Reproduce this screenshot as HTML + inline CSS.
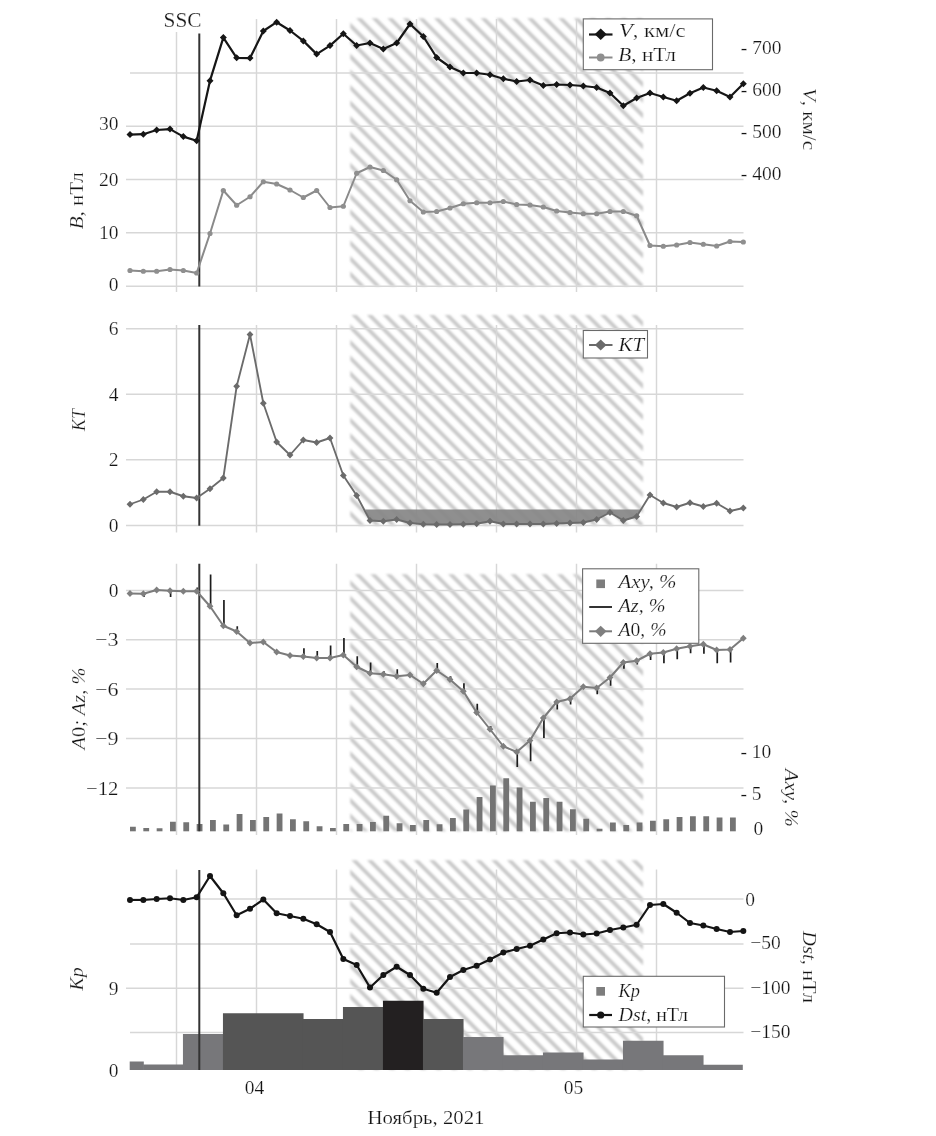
<!DOCTYPE html>
<html lang="ru"><head><meta charset="utf-8"><title>Ноябрь, 2021</title>
<style>html,body{margin:0;padding:0;background:#fff}body{width:936px;height:1136px;overflow:hidden}svg{display:block;font-family:'Liberation Serif',serif}</style></head><body>
<svg width="936" height="1136" viewBox="0 0 936 1136">
<defs>
<filter id="soft" x="-2%" y="-2%" width="104%" height="104%"><feGaussianBlur stdDeviation="0.8"/></filter>
</defs>
<rect width="936" height="1136" fill="#fff"/>
<g id="p1">
<g filter="url(#soft)">
<clipPath id="hc1"><rect x="350.3" y="18.2" width="292.70" height="268.00"/></clipPath>
<g clip-path="url(#hc1)"><path d="M57.35 12.20l280.00 280.00M72.90 12.20l280.00 280.00M88.45 12.20l280.00 280.00M104.00 12.20l280.00 280.00M119.55 12.20l280.00 280.00M135.10 12.20l280.00 280.00M150.65 12.20l280.00 280.00M166.20 12.20l280.00 280.00M181.75 12.20l280.00 280.00M197.30 12.20l280.00 280.00M212.85 12.20l280.00 280.00M228.40 12.20l280.00 280.00M243.95 12.20l280.00 280.00M259.50 12.20l280.00 280.00M275.05 12.20l280.00 280.00M290.60 12.20l280.00 280.00M306.15 12.20l280.00 280.00M321.70 12.20l280.00 280.00M337.25 12.20l280.00 280.00M352.80 12.20l280.00 280.00M368.35 12.20l280.00 280.00M383.90 12.20l280.00 280.00M399.45 12.20l280.00 280.00M415.00 12.20l280.00 280.00M430.55 12.20l280.00 280.00M446.10 12.20l280.00 280.00M461.65 12.20l280.00 280.00M477.20 12.20l280.00 280.00M492.75 12.20l280.00 280.00M508.30 12.20l280.00 280.00M523.85 12.20l280.00 280.00M539.40 12.20l280.00 280.00M554.95 12.20l280.00 280.00M570.50 12.20l280.00 280.00M586.05 12.20l280.00 280.00M601.60 12.20l280.00 280.00M617.15 12.20l280.00 280.00M632.70 12.20l280.00 280.00M648.25 12.20l280.00 280.00M663.80 12.20l280.00 280.00" stroke="#c9c9c9" stroke-width="3.8" fill="none"/></g>
</g>
<line x1="176.5" y1="19" x2="176.5" y2="292" stroke="#d7d7d7" stroke-width="1.45"/>
<line x1="256.5" y1="19" x2="256.5" y2="292" stroke="#d7d7d7" stroke-width="1.45"/>
<line x1="336.5" y1="19" x2="336.5" y2="292" stroke="#d7d7d7" stroke-width="1.45"/>
<line x1="416.5" y1="19" x2="416.5" y2="292" stroke="#d7d7d7" stroke-width="1.45"/>
<line x1="496.5" y1="19" x2="496.5" y2="292" stroke="#d7d7d7" stroke-width="1.45"/>
<line x1="576.5" y1="19" x2="576.5" y2="292" stroke="#d7d7d7" stroke-width="1.45"/>
<line x1="656.5" y1="19" x2="656.5" y2="292" stroke="#d7d7d7" stroke-width="1.45"/>
<line x1="130" y1="73" x2="743.5" y2="73" stroke="#d7d7d7" stroke-width="1.45"/>
<line x1="126" y1="126.2" x2="743.5" y2="126.2" stroke="#d7d7d7" stroke-width="1.45"/>
<line x1="126" y1="179.5" x2="743.5" y2="179.5" stroke="#d7d7d7" stroke-width="1.45"/>
<line x1="126" y1="232.8" x2="743.5" y2="232.8" stroke="#d7d7d7" stroke-width="1.45"/>
<line x1="126" y1="286.2" x2="743.5" y2="286.2" stroke="#d7d7d7" stroke-width="1.45"/>
<line x1="199.3" y1="33.5" x2="199.3" y2="286.5" stroke="#333" stroke-width="2"/>
<polyline points="130.00,270.50 143.33,271.25 156.67,271.25 170.00,269.50 183.33,270.50 196.67,273.00 210.00,233.50 223.33,190.50 236.66,205.25 250.00,196.75 263.33,181.75 276.66,184.00 290.00,190.00 303.33,197.50 316.66,190.50 330.00,207.50 343.33,206.25 356.66,173.25 369.99,167.00 383.33,170.50 396.66,179.75 409.99,200.75 423.33,212.00 436.66,211.50 449.99,208.00 463.32,203.75 476.66,202.75 489.99,202.75 503.32,201.50 516.66,204.50 529.99,205.00 543.32,207.00 556.66,211.00 569.99,212.50 583.32,213.75 596.65,213.75 609.99,211.50 623.32,211.50 636.65,215.75 649.99,245.50 663.32,246.25 676.65,245.00 689.99,242.50 703.32,244.25 716.65,246.00 729.99,241.50 743.32,242.00" fill="none" stroke="#8a8a8a" stroke-width="2" stroke-linejoin="round" stroke-linecap="round"/>
<circle cx="130.00" cy="270.50" r="2.6" fill="#8f8f8f"/>
<circle cx="143.33" cy="271.25" r="2.6" fill="#8f8f8f"/>
<circle cx="156.67" cy="271.25" r="2.6" fill="#8f8f8f"/>
<circle cx="170.00" cy="269.50" r="2.6" fill="#8f8f8f"/>
<circle cx="183.33" cy="270.50" r="2.6" fill="#8f8f8f"/>
<circle cx="196.67" cy="273.00" r="2.6" fill="#8f8f8f"/>
<circle cx="210.00" cy="233.50" r="2.6" fill="#8f8f8f"/>
<circle cx="223.33" cy="190.50" r="2.6" fill="#8f8f8f"/>
<circle cx="236.66" cy="205.25" r="2.6" fill="#8f8f8f"/>
<circle cx="250.00" cy="196.75" r="2.6" fill="#8f8f8f"/>
<circle cx="263.33" cy="181.75" r="2.6" fill="#8f8f8f"/>
<circle cx="276.66" cy="184.00" r="2.6" fill="#8f8f8f"/>
<circle cx="290.00" cy="190.00" r="2.6" fill="#8f8f8f"/>
<circle cx="303.33" cy="197.50" r="2.6" fill="#8f8f8f"/>
<circle cx="316.66" cy="190.50" r="2.6" fill="#8f8f8f"/>
<circle cx="330.00" cy="207.50" r="2.6" fill="#8f8f8f"/>
<circle cx="343.33" cy="206.25" r="2.6" fill="#8f8f8f"/>
<circle cx="356.66" cy="173.25" r="2.6" fill="#8f8f8f"/>
<circle cx="369.99" cy="167.00" r="2.6" fill="#8f8f8f"/>
<circle cx="383.33" cy="170.50" r="2.6" fill="#8f8f8f"/>
<circle cx="396.66" cy="179.75" r="2.6" fill="#8f8f8f"/>
<circle cx="409.99" cy="200.75" r="2.6" fill="#8f8f8f"/>
<circle cx="423.33" cy="212.00" r="2.6" fill="#8f8f8f"/>
<circle cx="436.66" cy="211.50" r="2.6" fill="#8f8f8f"/>
<circle cx="449.99" cy="208.00" r="2.6" fill="#8f8f8f"/>
<circle cx="463.32" cy="203.75" r="2.6" fill="#8f8f8f"/>
<circle cx="476.66" cy="202.75" r="2.6" fill="#8f8f8f"/>
<circle cx="489.99" cy="202.75" r="2.6" fill="#8f8f8f"/>
<circle cx="503.32" cy="201.50" r="2.6" fill="#8f8f8f"/>
<circle cx="516.66" cy="204.50" r="2.6" fill="#8f8f8f"/>
<circle cx="529.99" cy="205.00" r="2.6" fill="#8f8f8f"/>
<circle cx="543.32" cy="207.00" r="2.6" fill="#8f8f8f"/>
<circle cx="556.66" cy="211.00" r="2.6" fill="#8f8f8f"/>
<circle cx="569.99" cy="212.50" r="2.6" fill="#8f8f8f"/>
<circle cx="583.32" cy="213.75" r="2.6" fill="#8f8f8f"/>
<circle cx="596.65" cy="213.75" r="2.6" fill="#8f8f8f"/>
<circle cx="609.99" cy="211.50" r="2.6" fill="#8f8f8f"/>
<circle cx="623.32" cy="211.50" r="2.6" fill="#8f8f8f"/>
<circle cx="636.65" cy="215.75" r="2.6" fill="#8f8f8f"/>
<circle cx="649.99" cy="245.50" r="2.6" fill="#8f8f8f"/>
<circle cx="663.32" cy="246.25" r="2.6" fill="#8f8f8f"/>
<circle cx="676.65" cy="245.00" r="2.6" fill="#8f8f8f"/>
<circle cx="689.99" cy="242.50" r="2.6" fill="#8f8f8f"/>
<circle cx="703.32" cy="244.25" r="2.6" fill="#8f8f8f"/>
<circle cx="716.65" cy="246.00" r="2.6" fill="#8f8f8f"/>
<circle cx="729.99" cy="241.50" r="2.6" fill="#8f8f8f"/>
<circle cx="743.32" cy="242.00" r="2.6" fill="#8f8f8f"/>
<polyline points="130.00,134.60 143.33,134.20 156.67,130.00 170.00,129.10 183.33,136.60 196.67,140.70 210.00,80.70 223.33,37.60 236.66,57.80 250.00,58.10 263.33,31.00 276.66,22.20 290.00,30.50 303.33,40.90 316.66,54.10 330.00,45.60 343.33,33.75 356.66,45.50 369.99,43.00 383.33,49.00 396.66,43.00 409.99,24.00 423.33,36.50 436.66,57.50 449.99,67.00 463.32,73.00 476.66,73.00 489.99,74.75 503.32,78.75 516.66,81.50 529.99,80.00 543.32,85.50 556.66,84.50 569.99,85.00 583.32,86.00 596.65,87.50 609.99,93.00 623.32,105.75 636.65,98.00 649.99,93.00 663.32,97.00 676.65,100.75 689.99,93.25 703.32,87.50 716.65,90.75 729.99,97.00 743.32,83.75" fill="none" stroke="#161616" stroke-width="2.2" stroke-linejoin="round" stroke-linecap="round"/>
<path d="M130.00 131.10l3.5 3.5l-3.5 3.5l-3.5 -3.5zM143.33 130.70l3.5 3.5l-3.5 3.5l-3.5 -3.5zM156.67 126.50l3.5 3.5l-3.5 3.5l-3.5 -3.5zM170.00 125.60l3.5 3.5l-3.5 3.5l-3.5 -3.5zM183.33 133.10l3.5 3.5l-3.5 3.5l-3.5 -3.5zM196.67 137.20l3.5 3.5l-3.5 3.5l-3.5 -3.5zM210.00 77.20l3.5 3.5l-3.5 3.5l-3.5 -3.5zM223.33 34.10l3.5 3.5l-3.5 3.5l-3.5 -3.5zM236.66 54.30l3.5 3.5l-3.5 3.5l-3.5 -3.5zM250.00 54.60l3.5 3.5l-3.5 3.5l-3.5 -3.5zM263.33 27.50l3.5 3.5l-3.5 3.5l-3.5 -3.5zM276.66 18.70l3.5 3.5l-3.5 3.5l-3.5 -3.5zM290.00 27.00l3.5 3.5l-3.5 3.5l-3.5 -3.5zM303.33 37.40l3.5 3.5l-3.5 3.5l-3.5 -3.5zM316.66 50.60l3.5 3.5l-3.5 3.5l-3.5 -3.5zM330.00 42.10l3.5 3.5l-3.5 3.5l-3.5 -3.5zM343.33 30.25l3.5 3.5l-3.5 3.5l-3.5 -3.5zM356.66 42.00l3.5 3.5l-3.5 3.5l-3.5 -3.5zM369.99 39.50l3.5 3.5l-3.5 3.5l-3.5 -3.5zM383.33 45.50l3.5 3.5l-3.5 3.5l-3.5 -3.5zM396.66 39.50l3.5 3.5l-3.5 3.5l-3.5 -3.5zM409.99 20.50l3.5 3.5l-3.5 3.5l-3.5 -3.5zM423.33 33.00l3.5 3.5l-3.5 3.5l-3.5 -3.5zM436.66 54.00l3.5 3.5l-3.5 3.5l-3.5 -3.5zM449.99 63.50l3.5 3.5l-3.5 3.5l-3.5 -3.5zM463.32 69.50l3.5 3.5l-3.5 3.5l-3.5 -3.5zM476.66 69.50l3.5 3.5l-3.5 3.5l-3.5 -3.5zM489.99 71.25l3.5 3.5l-3.5 3.5l-3.5 -3.5zM503.32 75.25l3.5 3.5l-3.5 3.5l-3.5 -3.5zM516.66 78.00l3.5 3.5l-3.5 3.5l-3.5 -3.5zM529.99 76.50l3.5 3.5l-3.5 3.5l-3.5 -3.5zM543.32 82.00l3.5 3.5l-3.5 3.5l-3.5 -3.5zM556.66 81.00l3.5 3.5l-3.5 3.5l-3.5 -3.5zM569.99 81.50l3.5 3.5l-3.5 3.5l-3.5 -3.5zM583.32 82.50l3.5 3.5l-3.5 3.5l-3.5 -3.5zM596.65 84.00l3.5 3.5l-3.5 3.5l-3.5 -3.5zM609.99 89.50l3.5 3.5l-3.5 3.5l-3.5 -3.5zM623.32 102.25l3.5 3.5l-3.5 3.5l-3.5 -3.5zM636.65 94.50l3.5 3.5l-3.5 3.5l-3.5 -3.5zM649.99 89.50l3.5 3.5l-3.5 3.5l-3.5 -3.5zM663.32 93.50l3.5 3.5l-3.5 3.5l-3.5 -3.5zM676.65 97.25l3.5 3.5l-3.5 3.5l-3.5 -3.5zM689.99 89.75l3.5 3.5l-3.5 3.5l-3.5 -3.5zM703.32 84.00l3.5 3.5l-3.5 3.5l-3.5 -3.5zM716.65 87.25l3.5 3.5l-3.5 3.5l-3.5 -3.5zM729.99 93.50l3.5 3.5l-3.5 3.5l-3.5 -3.5zM743.32 80.25l3.5 3.5l-3.5 3.5l-3.5 -3.5z" fill="#161616"/>
<rect x="583.3" y="18.9" width="129.2" height="50.8" fill="#fff" stroke="#6a6a6a" stroke-width="1.1"/>
<line x1="589" y1="34.5" x2="612.5" y2="34.5" stroke="#161616" stroke-width="2.2"/>
<path d="M600.7 28.6l6 5.7l-6 5.7l-6-5.7z" fill="#161616"/>
<line x1="589" y1="57.5" x2="612.5" y2="57.5" stroke="#8a8a8a" stroke-width="2"/>
<circle cx="600.7" cy="57.5" r="3.9" fill="#8f8f8f"/>
<text x="619" y="36.6" textLength="66.5" lengthAdjust="spacingAndGlyphs" font-size="19.5" fill="#141414" stroke="#fff" stroke-width="0.22"><tspan font-style="italic">V</tspan>, км/с</text>
<text x="618.3" y="61.3" textLength="57.5" lengthAdjust="spacingAndGlyphs" font-size="19.5" fill="#141414" stroke="#fff" stroke-width="0.22"><tspan font-style="italic">B</tspan>, нТл</text>
<text x="118.5" y="130.0" text-anchor="end" font-size="19.5" fill="#141414" stroke="#fff" stroke-width="0.22">30</text>
<text x="118.5" y="186.0" text-anchor="end" font-size="19.5" fill="#141414" stroke="#fff" stroke-width="0.22">20</text>
<text x="118.5" y="239.3" text-anchor="end" font-size="19.5" fill="#141414" stroke="#fff" stroke-width="0.22">10</text>
<text x="118.5" y="291.0" text-anchor="end" font-size="19.5" fill="#141414" stroke="#fff" stroke-width="0.22">0</text>
<text x="83.5" y="200.8" text-anchor="middle" textLength="57" lengthAdjust="spacingAndGlyphs" transform="rotate(-90 83.5 200.8)" font-size="19.5" fill="#141414" stroke="#fff" stroke-width="0.22"><tspan font-style="italic">B</tspan>, нТл</text>
<text x="740.8" y="54.3" font-size="19.5" fill="#141414" stroke="#fff" stroke-width="0.22">- 700</text>
<text x="740.8" y="96.1" font-size="19.5" fill="#141414" stroke="#fff" stroke-width="0.22">- 600</text>
<text x="740.8" y="138.3" font-size="19.5" fill="#141414" stroke="#fff" stroke-width="0.22">- 500</text>
<text x="740.8" y="180.2" font-size="19.5" fill="#141414" stroke="#fff" stroke-width="0.22">- 400</text>
<text x="802.5" y="119" text-anchor="middle" textLength="62" lengthAdjust="spacingAndGlyphs" transform="rotate(90 802.5 119)" font-size="19.5" fill="#141414" stroke="#fff" stroke-width="0.22"><tspan font-style="italic">V</tspan>, км/с</text>
<rect x="160" y="8" width="44" height="24" fill="#fff"/>
<text x="163.6" y="27" textLength="38" lengthAdjust="spacingAndGlyphs" font-size="21" fill="#141414" stroke="#fff" stroke-width="0.22">SSC</text>
</g>
<g id="p2">
<g filter="url(#soft)">
<clipPath id="hc2"><rect x="350.3" y="315.1" width="292.70" height="210.40"/></clipPath>
<g clip-path="url(#hc2)"><path d="M114.85 309.10l222.40 222.40M130.40 309.10l222.40 222.40M145.95 309.10l222.40 222.40M161.50 309.10l222.40 222.40M177.05 309.10l222.40 222.40M192.60 309.10l222.40 222.40M208.15 309.10l222.40 222.40M223.70 309.10l222.40 222.40M239.25 309.10l222.40 222.40M254.80 309.10l222.40 222.40M270.35 309.10l222.40 222.40M285.90 309.10l222.40 222.40M301.45 309.10l222.40 222.40M317.00 309.10l222.40 222.40M332.55 309.10l222.40 222.40M348.10 309.10l222.40 222.40M363.65 309.10l222.40 222.40M379.20 309.10l222.40 222.40M394.75 309.10l222.40 222.40M410.30 309.10l222.40 222.40M425.85 309.10l222.40 222.40M441.40 309.10l222.40 222.40M456.95 309.10l222.40 222.40M472.50 309.10l222.40 222.40M488.05 309.10l222.40 222.40M503.60 309.10l222.40 222.40M519.15 309.10l222.40 222.40M534.70 309.10l222.40 222.40M550.25 309.10l222.40 222.40M565.80 309.10l222.40 222.40M581.35 309.10l222.40 222.40M596.90 309.10l222.40 222.40M612.45 309.10l222.40 222.40M628.00 309.10l222.40 222.40M643.55 309.10l222.40 222.40M659.10 309.10l222.40 222.40" stroke="#c9c9c9" stroke-width="3.8" fill="none"/></g>
</g>
<line x1="176.5" y1="325" x2="176.5" y2="532.5" stroke="#d7d7d7" stroke-width="1.45"/>
<line x1="256.5" y1="325" x2="256.5" y2="532.5" stroke="#d7d7d7" stroke-width="1.45"/>
<line x1="336.5" y1="325" x2="336.5" y2="532.5" stroke="#d7d7d7" stroke-width="1.45"/>
<line x1="416.5" y1="325" x2="416.5" y2="532.5" stroke="#d7d7d7" stroke-width="1.45"/>
<line x1="496.5" y1="325" x2="496.5" y2="532.5" stroke="#d7d7d7" stroke-width="1.45"/>
<line x1="576.5" y1="325" x2="576.5" y2="532.5" stroke="#d7d7d7" stroke-width="1.45"/>
<line x1="656.5" y1="325" x2="656.5" y2="532.5" stroke="#d7d7d7" stroke-width="1.45"/>
<line x1="126" y1="328.8" x2="743.5" y2="328.8" stroke="#d7d7d7" stroke-width="1.45"/>
<line x1="126" y1="394.2" x2="743.5" y2="394.2" stroke="#d7d7d7" stroke-width="1.45"/>
<line x1="126" y1="459.8" x2="743.5" y2="459.8" stroke="#d7d7d7" stroke-width="1.45"/>
<line x1="126" y1="525.5" x2="743.5" y2="525.5" stroke="#d7d7d7" stroke-width="1.45"/>
<line x1="199.3" y1="325" x2="199.3" y2="525.7" stroke="#333" stroke-width="2"/>
<path d="M365.2 509.4L640.3 509.4L636.65 516.50L623.32 520.50L609.99 512.50L596.65 519.50L583.32 522.50L569.99 523.00L556.66 523.50L543.32 524.00L529.99 524.00L516.66 524.00L503.32 524.00L489.99 521.25L476.66 523.75L463.32 524.25L449.99 524.50L436.66 524.50L423.33 524.25L409.99 523.00L396.66 519.50L383.33 521.25L369.99 520.50L365.2 509.4Z" fill="#868686" fill-opacity="0.93"/>
<polyline points="130.00,504.25 143.33,499.50 156.67,491.75 170.00,491.75 183.33,496.25 196.67,498.00 210.00,488.75 223.33,478.00 236.66,386.25 250.00,334.50 263.33,403.25 276.66,442.00 290.00,455.00 303.33,440.00 316.66,442.50 330.00,438.00 343.33,475.50 356.66,495.50 369.99,520.50 383.33,521.25 396.66,519.50 409.99,523.00 423.33,524.25 436.66,524.50 449.99,524.50 463.32,524.25 476.66,523.75 489.99,521.25 503.32,524.00 516.66,524.00 529.99,524.00 543.32,524.00 556.66,523.50 569.99,523.00 583.32,522.50 596.65,519.50 609.99,512.50 623.32,520.50 636.65,516.50 649.99,495.00 663.32,503.00 676.65,507.00 689.99,502.75 703.32,506.50 716.65,503.25 729.99,511.00 743.32,508.00" fill="none" stroke="#6b6b6b" stroke-width="1.85" stroke-linejoin="round" stroke-linecap="round"/>
<path d="M130.00 500.85l3.4 3.4l-3.4 3.4l-3.4 -3.4zM143.33 496.10l3.4 3.4l-3.4 3.4l-3.4 -3.4zM156.67 488.35l3.4 3.4l-3.4 3.4l-3.4 -3.4zM170.00 488.35l3.4 3.4l-3.4 3.4l-3.4 -3.4zM183.33 492.85l3.4 3.4l-3.4 3.4l-3.4 -3.4zM196.67 494.60l3.4 3.4l-3.4 3.4l-3.4 -3.4zM210.00 485.35l3.4 3.4l-3.4 3.4l-3.4 -3.4zM223.33 474.60l3.4 3.4l-3.4 3.4l-3.4 -3.4zM236.66 382.85l3.4 3.4l-3.4 3.4l-3.4 -3.4zM250.00 331.10l3.4 3.4l-3.4 3.4l-3.4 -3.4zM263.33 399.85l3.4 3.4l-3.4 3.4l-3.4 -3.4zM276.66 438.60l3.4 3.4l-3.4 3.4l-3.4 -3.4zM290.00 451.60l3.4 3.4l-3.4 3.4l-3.4 -3.4zM303.33 436.60l3.4 3.4l-3.4 3.4l-3.4 -3.4zM316.66 439.10l3.4 3.4l-3.4 3.4l-3.4 -3.4zM330.00 434.60l3.4 3.4l-3.4 3.4l-3.4 -3.4zM343.33 472.10l3.4 3.4l-3.4 3.4l-3.4 -3.4zM356.66 492.10l3.4 3.4l-3.4 3.4l-3.4 -3.4zM369.99 517.10l3.4 3.4l-3.4 3.4l-3.4 -3.4zM383.33 517.85l3.4 3.4l-3.4 3.4l-3.4 -3.4zM396.66 516.10l3.4 3.4l-3.4 3.4l-3.4 -3.4zM409.99 519.60l3.4 3.4l-3.4 3.4l-3.4 -3.4zM423.33 520.85l3.4 3.4l-3.4 3.4l-3.4 -3.4zM436.66 521.10l3.4 3.4l-3.4 3.4l-3.4 -3.4zM449.99 521.10l3.4 3.4l-3.4 3.4l-3.4 -3.4zM463.32 520.85l3.4 3.4l-3.4 3.4l-3.4 -3.4zM476.66 520.35l3.4 3.4l-3.4 3.4l-3.4 -3.4zM489.99 517.85l3.4 3.4l-3.4 3.4l-3.4 -3.4zM503.32 520.60l3.4 3.4l-3.4 3.4l-3.4 -3.4zM516.66 520.60l3.4 3.4l-3.4 3.4l-3.4 -3.4zM529.99 520.60l3.4 3.4l-3.4 3.4l-3.4 -3.4zM543.32 520.60l3.4 3.4l-3.4 3.4l-3.4 -3.4zM556.66 520.10l3.4 3.4l-3.4 3.4l-3.4 -3.4zM569.99 519.60l3.4 3.4l-3.4 3.4l-3.4 -3.4zM583.32 519.10l3.4 3.4l-3.4 3.4l-3.4 -3.4zM596.65 516.10l3.4 3.4l-3.4 3.4l-3.4 -3.4zM609.99 509.10l3.4 3.4l-3.4 3.4l-3.4 -3.4zM623.32 517.10l3.4 3.4l-3.4 3.4l-3.4 -3.4zM636.65 513.10l3.4 3.4l-3.4 3.4l-3.4 -3.4zM649.99 491.60l3.4 3.4l-3.4 3.4l-3.4 -3.4zM663.32 499.60l3.4 3.4l-3.4 3.4l-3.4 -3.4zM676.65 503.60l3.4 3.4l-3.4 3.4l-3.4 -3.4zM689.99 499.35l3.4 3.4l-3.4 3.4l-3.4 -3.4zM703.32 503.10l3.4 3.4l-3.4 3.4l-3.4 -3.4zM716.65 499.85l3.4 3.4l-3.4 3.4l-3.4 -3.4zM729.99 507.60l3.4 3.4l-3.4 3.4l-3.4 -3.4zM743.32 504.60l3.4 3.4l-3.4 3.4l-3.4 -3.4z" fill="#6b6b6b"/>
<rect x="583.3" y="330.5" width="64.2" height="27.5" fill="#fff" stroke="#6a6a6a" stroke-width="1.1"/>
<line x1="589" y1="345" x2="612.5" y2="345" stroke="#6b6b6b" stroke-width="2"/>
<path d="M600.7 339.4l5.8 5.6l-5.8 5.6l-5.8-5.6z" fill="#6b6b6b"/>
<text x="618.5" y="350.7" textLength="25.5" lengthAdjust="spacingAndGlyphs" font-style="italic" font-size="19.5" fill="#141414" stroke="#fff" stroke-width="0.22">KT</text>
<text x="118.5" y="335.3" text-anchor="end" font-size="19.5" fill="#141414" stroke="#fff" stroke-width="0.22">6</text>
<text x="118.5" y="400.7" text-anchor="end" font-size="19.5" fill="#141414" stroke="#fff" stroke-width="0.22">4</text>
<text x="118.5" y="466.3" text-anchor="end" font-size="19.5" fill="#141414" stroke="#fff" stroke-width="0.22">2</text>
<text x="118.5" y="532.0" text-anchor="end" font-size="19.5" fill="#141414" stroke="#fff" stroke-width="0.22">0</text>
<text x="84.7" y="420" text-anchor="middle" textLength="22" lengthAdjust="spacingAndGlyphs" transform="rotate(-90 84.7 420)" font-style="italic" font-size="19.5" fill="#141414" stroke="#fff" stroke-width="0.22">KT</text>
</g>
<g id="p3">
<g filter="url(#soft)">
<clipPath id="hc3"><rect x="350.3" y="574.3" width="292.70" height="256.90"/></clipPath>
<g clip-path="url(#hc3)"><path d="M71.60 568.30l268.90 268.90M87.15 568.30l268.90 268.90M102.70 568.30l268.90 268.90M118.25 568.30l268.90 268.90M133.80 568.30l268.90 268.90M149.35 568.30l268.90 268.90M164.90 568.30l268.90 268.90M180.45 568.30l268.90 268.90M196.00 568.30l268.90 268.90M211.55 568.30l268.90 268.90M227.10 568.30l268.90 268.90M242.65 568.30l268.90 268.90M258.20 568.30l268.90 268.90M273.75 568.30l268.90 268.90M289.30 568.30l268.90 268.90M304.85 568.30l268.90 268.90M320.40 568.30l268.90 268.90M335.95 568.30l268.90 268.90M351.50 568.30l268.90 268.90M367.05 568.30l268.90 268.90M382.60 568.30l268.90 268.90M398.15 568.30l268.90 268.90M413.70 568.30l268.90 268.90M429.25 568.30l268.90 268.90M444.80 568.30l268.90 268.90M460.35 568.30l268.90 268.90M475.90 568.30l268.90 268.90M491.45 568.30l268.90 268.90M507.00 568.30l268.90 268.90M522.55 568.30l268.90 268.90M538.10 568.30l268.90 268.90M553.65 568.30l268.90 268.90M569.20 568.30l268.90 268.90M584.75 568.30l268.90 268.90M600.30 568.30l268.90 268.90M615.85 568.30l268.90 268.90M631.40 568.30l268.90 268.90M646.95 568.30l268.90 268.90M662.50 568.30l268.90 268.90" stroke="#c9c9c9" stroke-width="3.8" fill="none"/></g>
</g>
<line x1="176.5" y1="563.8" x2="176.5" y2="835" stroke="#d7d7d7" stroke-width="1.45"/>
<line x1="256.5" y1="563.8" x2="256.5" y2="835" stroke="#d7d7d7" stroke-width="1.45"/>
<line x1="336.5" y1="563.8" x2="336.5" y2="835" stroke="#d7d7d7" stroke-width="1.45"/>
<line x1="416.5" y1="563.8" x2="416.5" y2="835" stroke="#d7d7d7" stroke-width="1.45"/>
<line x1="496.5" y1="563.8" x2="496.5" y2="835" stroke="#d7d7d7" stroke-width="1.45"/>
<line x1="576.5" y1="563.8" x2="576.5" y2="835" stroke="#d7d7d7" stroke-width="1.45"/>
<line x1="656.5" y1="563.8" x2="656.5" y2="835" stroke="#d7d7d7" stroke-width="1.45"/>
<line x1="126" y1="590.5" x2="743.5" y2="590.5" stroke="#d7d7d7" stroke-width="1.45"/>
<line x1="126" y1="639.7" x2="743.5" y2="639.7" stroke="#d7d7d7" stroke-width="1.45"/>
<line x1="126" y1="689" x2="743.5" y2="689" stroke="#d7d7d7" stroke-width="1.45"/>
<line x1="126" y1="738.5" x2="743.5" y2="738.5" stroke="#d7d7d7" stroke-width="1.45"/>
<line x1="126" y1="788" x2="743.5" y2="788" stroke="#d7d7d7" stroke-width="1.45"/>
<rect x="130.00" y="826.75" width="5.8" height="4.55" fill="#747474"/>
<rect x="143.33" y="828" width="5.8" height="3.30" fill="#747474"/>
<rect x="156.67" y="828.25" width="5.8" height="3.05" fill="#747474"/>
<rect x="170.00" y="821.75" width="5.8" height="9.55" fill="#747474"/>
<rect x="183.33" y="822.25" width="5.8" height="9.05" fill="#747474"/>
<rect x="196.67" y="824" width="5.8" height="7.30" fill="#747474"/>
<rect x="210.00" y="820" width="5.8" height="11.30" fill="#747474"/>
<rect x="223.33" y="824.5" width="5.8" height="6.80" fill="#747474"/>
<rect x="236.66" y="814" width="5.8" height="17.30" fill="#747474"/>
<rect x="250.00" y="820" width="5.8" height="11.30" fill="#747474"/>
<rect x="263.33" y="817" width="5.8" height="14.30" fill="#747474"/>
<rect x="276.66" y="813.5" width="5.8" height="17.80" fill="#747474"/>
<rect x="290.00" y="819.25" width="5.8" height="12.05" fill="#747474"/>
<rect x="303.33" y="821.25" width="5.8" height="10.05" fill="#747474"/>
<rect x="316.66" y="826.25" width="5.8" height="5.05" fill="#747474"/>
<rect x="330.00" y="828" width="5.8" height="3.30" fill="#747474"/>
<rect x="343.33" y="824" width="5.8" height="7.30" fill="#747474"/>
<rect x="356.66" y="824" width="5.8" height="7.30" fill="#747474"/>
<rect x="369.99" y="822" width="5.8" height="9.30" fill="#747474"/>
<rect x="383.33" y="815.75" width="5.8" height="15.55" fill="#747474"/>
<rect x="396.66" y="823.25" width="5.8" height="8.05" fill="#747474"/>
<rect x="409.99" y="825" width="5.8" height="6.30" fill="#747474"/>
<rect x="423.33" y="820" width="5.8" height="11.30" fill="#747474"/>
<rect x="436.66" y="824.25" width="5.8" height="7.05" fill="#747474"/>
<rect x="449.99" y="818" width="5.8" height="13.30" fill="#747474"/>
<rect x="463.32" y="809.5" width="5.8" height="21.80" fill="#747474"/>
<rect x="476.66" y="797" width="5.8" height="34.30" fill="#747474"/>
<rect x="489.99" y="785.5" width="5.8" height="45.80" fill="#747474"/>
<rect x="503.32" y="778.25" width="5.8" height="53.05" fill="#747474"/>
<rect x="516.66" y="787.5" width="5.8" height="43.80" fill="#747474"/>
<rect x="529.99" y="801.75" width="5.8" height="29.55" fill="#747474"/>
<rect x="543.32" y="798" width="5.8" height="33.30" fill="#747474"/>
<rect x="556.66" y="801.75" width="5.8" height="29.55" fill="#747474"/>
<rect x="569.99" y="809.25" width="5.8" height="22.05" fill="#747474"/>
<rect x="583.32" y="818.75" width="5.8" height="12.55" fill="#747474"/>
<rect x="596.65" y="828.75" width="5.8" height="2.55" fill="#747474"/>
<rect x="609.99" y="822.5" width="5.8" height="8.80" fill="#747474"/>
<rect x="623.32" y="825" width="5.8" height="6.30" fill="#747474"/>
<rect x="636.65" y="822.5" width="5.8" height="8.80" fill="#747474"/>
<rect x="649.99" y="820.75" width="5.8" height="10.55" fill="#747474"/>
<rect x="663.32" y="819.25" width="5.8" height="12.05" fill="#747474"/>
<rect x="676.65" y="817" width="5.8" height="14.30" fill="#747474"/>
<rect x="689.99" y="816.25" width="5.8" height="15.05" fill="#747474"/>
<rect x="703.32" y="816.25" width="5.8" height="15.05" fill="#747474"/>
<rect x="716.65" y="817.5" width="5.8" height="13.80" fill="#747474"/>
<rect x="729.99" y="817.5" width="5.8" height="13.80" fill="#747474"/>
<line x1="199.3" y1="563.8" x2="199.3" y2="831.3" stroke="#333" stroke-width="2"/>
<line x1="143.93" y1="593.75" x2="143.93" y2="597" stroke="#1c1c1c" stroke-width="1.7"/>
<line x1="170.60" y1="590.75" x2="170.60" y2="597" stroke="#1c1c1c" stroke-width="1.7"/>
<line x1="197.27" y1="591.25" x2="197.27" y2="587.5" stroke="#1c1c1c" stroke-width="1.7"/>
<line x1="210.60" y1="606.25" x2="210.60" y2="574.5" stroke="#1c1c1c" stroke-width="1.7"/>
<line x1="223.93" y1="625.75" x2="223.93" y2="600" stroke="#1c1c1c" stroke-width="1.7"/>
<line x1="237.26" y1="631.5" x2="237.26" y2="626.25" stroke="#1c1c1c" stroke-width="1.7"/>
<line x1="303.93" y1="656.5" x2="303.93" y2="648.25" stroke="#1c1c1c" stroke-width="1.7"/>
<line x1="317.26" y1="658" x2="317.26" y2="651" stroke="#1c1c1c" stroke-width="1.7"/>
<line x1="330.60" y1="658" x2="330.60" y2="645.5" stroke="#1c1c1c" stroke-width="1.7"/>
<line x1="343.93" y1="655" x2="343.93" y2="638" stroke="#1c1c1c" stroke-width="1.7"/>
<line x1="357.26" y1="666.75" x2="357.26" y2="656.25" stroke="#1c1c1c" stroke-width="1.7"/>
<line x1="370.59" y1="673.25" x2="370.59" y2="662.5" stroke="#1c1c1c" stroke-width="1.7"/>
<line x1="383.93" y1="674.25" x2="383.93" y2="671.25" stroke="#1c1c1c" stroke-width="1.7"/>
<line x1="397.26" y1="676.25" x2="397.26" y2="669.25" stroke="#1c1c1c" stroke-width="1.7"/>
<line x1="423.93" y1="683.75" x2="423.93" y2="681.5" stroke="#1c1c1c" stroke-width="1.7"/>
<line x1="437.26" y1="670.5" x2="437.26" y2="663" stroke="#1c1c1c" stroke-width="1.7"/>
<line x1="450.59" y1="679.5" x2="450.59" y2="676.25" stroke="#1c1c1c" stroke-width="1.7"/>
<line x1="463.93" y1="691.25" x2="463.93" y2="683.25" stroke="#1c1c1c" stroke-width="1.7"/>
<line x1="477.26" y1="712.5" x2="477.26" y2="703.75" stroke="#1c1c1c" stroke-width="1.7"/>
<line x1="490.59" y1="729.25" x2="490.59" y2="726" stroke="#1c1c1c" stroke-width="1.7"/>
<line x1="517.26" y1="752" x2="517.26" y2="767" stroke="#1c1c1c" stroke-width="1.7"/>
<line x1="530.59" y1="740.5" x2="530.59" y2="761.25" stroke="#1c1c1c" stroke-width="1.7"/>
<line x1="543.92" y1="718" x2="543.92" y2="738" stroke="#1c1c1c" stroke-width="1.7"/>
<line x1="557.26" y1="702" x2="557.26" y2="709.5" stroke="#1c1c1c" stroke-width="1.7"/>
<line x1="570.59" y1="698.75" x2="570.59" y2="704.5" stroke="#1c1c1c" stroke-width="1.7"/>
<line x1="597.25" y1="688" x2="597.25" y2="694.25" stroke="#1c1c1c" stroke-width="1.7"/>
<line x1="610.59" y1="677.5" x2="610.59" y2="685.75" stroke="#1c1c1c" stroke-width="1.7"/>
<line x1="623.92" y1="662.5" x2="623.92" y2="668.75" stroke="#1c1c1c" stroke-width="1.7"/>
<line x1="637.25" y1="660.75" x2="637.25" y2="664.5" stroke="#1c1c1c" stroke-width="1.7"/>
<line x1="650.59" y1="653.75" x2="650.59" y2="660" stroke="#1c1c1c" stroke-width="1.7"/>
<line x1="663.92" y1="652.5" x2="663.92" y2="663.25" stroke="#1c1c1c" stroke-width="1.7"/>
<line x1="677.25" y1="648.75" x2="677.25" y2="659.25" stroke="#1c1c1c" stroke-width="1.7"/>
<line x1="690.59" y1="646.25" x2="690.59" y2="653.25" stroke="#1c1c1c" stroke-width="1.7"/>
<line x1="703.92" y1="644.25" x2="703.92" y2="653.75" stroke="#1c1c1c" stroke-width="1.7"/>
<line x1="717.25" y1="650" x2="717.25" y2="663.25" stroke="#1c1c1c" stroke-width="1.7"/>
<line x1="730.59" y1="649.5" x2="730.59" y2="662.5" stroke="#1c1c1c" stroke-width="1.7"/>
<polyline points="130.00,593.50 143.33,593.75 156.67,590.00 170.00,590.75 183.33,591.25 196.67,591.25 210.00,606.25 223.33,625.75 236.66,631.50 250.00,643.00 263.33,642.00 276.66,652.00 290.00,655.50 303.33,656.50 316.66,658.00 330.00,658.00 343.33,655.00 356.66,666.75 369.99,673.25 383.33,674.25 396.66,676.25 409.99,675.00 423.33,683.75 436.66,670.50 449.99,679.50 463.32,691.25 476.66,712.50 489.99,729.25 503.32,746.25 516.66,752.00 529.99,740.50 543.32,718.00 556.66,702.00 569.99,698.75 583.32,686.75 596.65,688.00 609.99,677.50 623.32,662.50 636.65,660.75 649.99,653.75 663.32,652.50 676.65,648.75 689.99,646.25 703.32,644.25 716.65,650.00 729.99,649.50 743.32,638.25" fill="none" stroke="#7b7b7b" stroke-width="2" stroke-linejoin="round" stroke-linecap="round"/>
<path d="M130.00 590.10l3.4 3.4l-3.4 3.4l-3.4 -3.4zM143.33 590.35l3.4 3.4l-3.4 3.4l-3.4 -3.4zM156.67 586.60l3.4 3.4l-3.4 3.4l-3.4 -3.4zM170.00 587.35l3.4 3.4l-3.4 3.4l-3.4 -3.4zM183.33 587.85l3.4 3.4l-3.4 3.4l-3.4 -3.4zM196.67 587.85l3.4 3.4l-3.4 3.4l-3.4 -3.4zM210.00 602.85l3.4 3.4l-3.4 3.4l-3.4 -3.4zM223.33 622.35l3.4 3.4l-3.4 3.4l-3.4 -3.4zM236.66 628.10l3.4 3.4l-3.4 3.4l-3.4 -3.4zM250.00 639.60l3.4 3.4l-3.4 3.4l-3.4 -3.4zM263.33 638.60l3.4 3.4l-3.4 3.4l-3.4 -3.4zM276.66 648.60l3.4 3.4l-3.4 3.4l-3.4 -3.4zM290.00 652.10l3.4 3.4l-3.4 3.4l-3.4 -3.4zM303.33 653.10l3.4 3.4l-3.4 3.4l-3.4 -3.4zM316.66 654.60l3.4 3.4l-3.4 3.4l-3.4 -3.4zM330.00 654.60l3.4 3.4l-3.4 3.4l-3.4 -3.4zM343.33 651.60l3.4 3.4l-3.4 3.4l-3.4 -3.4zM356.66 663.35l3.4 3.4l-3.4 3.4l-3.4 -3.4zM369.99 669.85l3.4 3.4l-3.4 3.4l-3.4 -3.4zM383.33 670.85l3.4 3.4l-3.4 3.4l-3.4 -3.4zM396.66 672.85l3.4 3.4l-3.4 3.4l-3.4 -3.4zM409.99 671.60l3.4 3.4l-3.4 3.4l-3.4 -3.4zM423.33 680.35l3.4 3.4l-3.4 3.4l-3.4 -3.4zM436.66 667.10l3.4 3.4l-3.4 3.4l-3.4 -3.4zM449.99 676.10l3.4 3.4l-3.4 3.4l-3.4 -3.4zM463.32 687.85l3.4 3.4l-3.4 3.4l-3.4 -3.4zM476.66 709.10l3.4 3.4l-3.4 3.4l-3.4 -3.4zM489.99 725.85l3.4 3.4l-3.4 3.4l-3.4 -3.4zM503.32 742.85l3.4 3.4l-3.4 3.4l-3.4 -3.4zM516.66 748.60l3.4 3.4l-3.4 3.4l-3.4 -3.4zM529.99 737.10l3.4 3.4l-3.4 3.4l-3.4 -3.4zM543.32 714.60l3.4 3.4l-3.4 3.4l-3.4 -3.4zM556.66 698.60l3.4 3.4l-3.4 3.4l-3.4 -3.4zM569.99 695.35l3.4 3.4l-3.4 3.4l-3.4 -3.4zM583.32 683.35l3.4 3.4l-3.4 3.4l-3.4 -3.4zM596.65 684.60l3.4 3.4l-3.4 3.4l-3.4 -3.4zM609.99 674.10l3.4 3.4l-3.4 3.4l-3.4 -3.4zM623.32 659.10l3.4 3.4l-3.4 3.4l-3.4 -3.4zM636.65 657.35l3.4 3.4l-3.4 3.4l-3.4 -3.4zM649.99 650.35l3.4 3.4l-3.4 3.4l-3.4 -3.4zM663.32 649.10l3.4 3.4l-3.4 3.4l-3.4 -3.4zM676.65 645.35l3.4 3.4l-3.4 3.4l-3.4 -3.4zM689.99 642.85l3.4 3.4l-3.4 3.4l-3.4 -3.4zM703.32 640.85l3.4 3.4l-3.4 3.4l-3.4 -3.4zM716.65 646.60l3.4 3.4l-3.4 3.4l-3.4 -3.4zM729.99 646.10l3.4 3.4l-3.4 3.4l-3.4 -3.4zM743.32 634.85l3.4 3.4l-3.4 3.4l-3.4 -3.4z" fill="#7f7f7f"/>
<rect x="582.6" y="568.8" width="116.2" height="74.5" fill="#fff" stroke="#6a6a6a" stroke-width="1.1"/>
<rect x="596.3" y="579.5" width="8.7" height="8.6" fill="#7d7d7d"/>
<line x1="589.2" y1="607" x2="612" y2="607" stroke="#1c1c1c" stroke-width="1.8"/>
<line x1="589.2" y1="631.3" x2="612" y2="631.3" stroke="#7b7b7b" stroke-width="2"/>
<path d="M600.7 625.7l5.8 5.6l-5.8 5.6l-5.8-5.6z" fill="#7f7f7f"/>
<text x="618.5" y="587.8" textLength="58" lengthAdjust="spacingAndGlyphs" font-style="italic" font-size="19.5" fill="#141414" stroke="#fff" stroke-width="0.22">Axy, %</text>
<text x="618.5" y="611.8" textLength="47" lengthAdjust="spacingAndGlyphs" font-style="italic" font-size="19.5" fill="#141414" stroke="#fff" stroke-width="0.22">Az, %</text>
<text x="618.5" y="636.3" textLength="48" lengthAdjust="spacingAndGlyphs" font-size="19.5" fill="#141414" stroke="#fff" stroke-width="0.22"><tspan font-style="italic">A</tspan>0<tspan font-style="italic">, %</tspan></text>
<text x="118.5" y="597.0" text-anchor="end" font-size="19.5" fill="#141414" stroke="#fff" stroke-width="0.22">0</text>
<text x="95.0" y="646.2" textLength="23.5" lengthAdjust="spacingAndGlyphs" font-size="19.5" fill="#141414" stroke="#fff" stroke-width="0.22">−3</text>
<text x="95.0" y="695.5" textLength="23.5" lengthAdjust="spacingAndGlyphs" font-size="19.5" fill="#141414" stroke="#fff" stroke-width="0.22">−6</text>
<text x="95.0" y="745.0" textLength="23.5" lengthAdjust="spacingAndGlyphs" font-size="19.5" fill="#141414" stroke="#fff" stroke-width="0.22">−9</text>
<text x="86.0" y="794.5" textLength="32.5" lengthAdjust="spacingAndGlyphs" font-size="19.5" fill="#141414" stroke="#fff" stroke-width="0.22">−12</text>
<text x="84.5" y="708.5" text-anchor="middle" textLength="82" lengthAdjust="spacingAndGlyphs" transform="rotate(-90 84.5 708.5)" font-size="19.5" fill="#141414" stroke="#fff" stroke-width="0.22"><tspan font-style="italic">A</tspan>0<tspan font-style="italic">; Az, %</tspan></text>
<text x="740.5" y="758.3" font-size="19.5" fill="#141414" stroke="#fff" stroke-width="0.22">- 10</text>
<text x="740.5" y="799.9" font-size="19.5" fill="#141414" stroke="#fff" stroke-width="0.22">- 5</text>
<text x="753.4" y="835.2" font-size="19.5" fill="#141414" stroke="#fff" stroke-width="0.22">0</text>
<text x="784.5" y="797.8" text-anchor="middle" textLength="58" lengthAdjust="spacingAndGlyphs" transform="rotate(90 784.5 797.8)" font-style="italic" font-size="19.5" fill="#141414" stroke="#fff" stroke-width="0.22">Axy, %</text>
</g>
<g id="p4">
<g filter="url(#soft)">
<clipPath id="hc4"><rect x="350.3" y="860.3" width="292.70" height="209.70"/></clipPath>
<g clip-path="url(#hc4)"><path d="M114.85 854.30l221.70 221.70M130.40 854.30l221.70 221.70M145.95 854.30l221.70 221.70M161.50 854.30l221.70 221.70M177.05 854.30l221.70 221.70M192.60 854.30l221.70 221.70M208.15 854.30l221.70 221.70M223.70 854.30l221.70 221.70M239.25 854.30l221.70 221.70M254.80 854.30l221.70 221.70M270.35 854.30l221.70 221.70M285.90 854.30l221.70 221.70M301.45 854.30l221.70 221.70M317.00 854.30l221.70 221.70M332.55 854.30l221.70 221.70M348.10 854.30l221.70 221.70M363.65 854.30l221.70 221.70M379.20 854.30l221.70 221.70M394.75 854.30l221.70 221.70M410.30 854.30l221.70 221.70M425.85 854.30l221.70 221.70M441.40 854.30l221.70 221.70M456.95 854.30l221.70 221.70M472.50 854.30l221.70 221.70M488.05 854.30l221.70 221.70M503.60 854.30l221.70 221.70M519.15 854.30l221.70 221.70M534.70 854.30l221.70 221.70M550.25 854.30l221.70 221.70M565.80 854.30l221.70 221.70M581.35 854.30l221.70 221.70M596.90 854.30l221.70 221.70M612.45 854.30l221.70 221.70M628.00 854.30l221.70 221.70M643.55 854.30l221.70 221.70M659.10 854.30l221.70 221.70" stroke="#c9c9c9" stroke-width="3.8" fill="none"/></g>
</g>
<line x1="176.5" y1="869.5" x2="176.5" y2="1070" stroke="#d7d7d7" stroke-width="1.45"/>
<line x1="256.5" y1="869.5" x2="256.5" y2="1070" stroke="#d7d7d7" stroke-width="1.45"/>
<line x1="336.5" y1="869.5" x2="336.5" y2="1070" stroke="#d7d7d7" stroke-width="1.45"/>
<line x1="416.5" y1="869.5" x2="416.5" y2="1070" stroke="#d7d7d7" stroke-width="1.45"/>
<line x1="496.5" y1="869.5" x2="496.5" y2="1070" stroke="#d7d7d7" stroke-width="1.45"/>
<line x1="576.5" y1="869.5" x2="576.5" y2="1070" stroke="#d7d7d7" stroke-width="1.45"/>
<line x1="656.5" y1="869.5" x2="656.5" y2="1070" stroke="#d7d7d7" stroke-width="1.45"/>
<line x1="130" y1="899" x2="743.5" y2="899" stroke="#d7d7d7" stroke-width="1.45"/>
<line x1="130" y1="944" x2="743.5" y2="944" stroke="#d7d7d7" stroke-width="1.45"/>
<line x1="126" y1="988.3" x2="743.5" y2="988.3" stroke="#d7d7d7" stroke-width="1.45"/>
<line x1="130" y1="1032.5" x2="743.5" y2="1032.5" stroke="#d7d7d7" stroke-width="1.45"/>
<rect x="129.70" y="1061.5" width="14.10" height="8.50" fill="#77777a"/>
<rect x="143.20" y="1064.5" width="40.35" height="5.50" fill="#77777a"/>
<rect x="182.95" y="1034" width="40.60" height="36.00" fill="#77777a"/>
<rect x="222.95" y="1013.25" width="80.60" height="56.75" fill="#555555"/>
<rect x="302.95" y="1019" width="40.60" height="51.00" fill="#555555"/>
<rect x="342.95" y="1007" width="40.60" height="63.00" fill="#555555"/>
<rect x="382.95" y="1000.75" width="40.60" height="69.25" fill="#232021"/>
<rect x="422.95" y="1019" width="40.60" height="51.00" fill="#555555"/>
<rect x="462.95" y="1037" width="40.60" height="33.00" fill="#77777a"/>
<rect x="502.95" y="1055.25" width="40.60" height="14.75" fill="#77777a"/>
<rect x="542.95" y="1052.5" width="40.60" height="17.50" fill="#77777a"/>
<rect x="582.95" y="1059.5" width="40.60" height="10.50" fill="#77777a"/>
<rect x="622.95" y="1040.75" width="40.60" height="29.25" fill="#77777a"/>
<rect x="662.95" y="1055.25" width="40.60" height="14.75" fill="#77777a"/>
<rect x="702.95" y="1064.75" width="39.85" height="5.25" fill="#77777a"/>
<line x1="199.3" y1="870" x2="199.3" y2="1070" stroke="#333" stroke-width="2"/>
<polyline points="130.00,900.00 143.33,900.00 156.67,899.00 170.00,898.25 183.33,900.00 196.67,897.25 210.00,876.00 223.33,893.25 236.66,915.25 250.00,908.75 263.33,899.50 276.66,913.25 290.00,916.00 303.33,918.75 316.66,924.25 330.00,932.00 343.33,959.00 356.66,965.00 369.99,987.50 383.33,975.00 396.66,966.75 409.99,975.00 423.33,988.75 436.66,992.75 449.99,977.00 463.32,970.00 476.66,965.75 489.99,959.50 503.32,952.50 516.66,949.00 529.99,945.75 543.32,939.50 556.66,933.25 569.99,932.50 583.32,934.50 596.65,933.50 609.99,930.00 623.32,927.50 636.65,924.75 649.99,905.00 663.32,904.00 676.65,912.75 689.99,923.00 703.32,925.50 716.65,929.00 729.99,932.00 743.32,931.00" fill="none" stroke="#141414" stroke-width="2.2" stroke-linejoin="round" stroke-linecap="round"/>
<circle cx="130.00" cy="900.00" r="3.0" fill="#141414"/>
<circle cx="143.33" cy="900.00" r="3.0" fill="#141414"/>
<circle cx="156.67" cy="899.00" r="3.0" fill="#141414"/>
<circle cx="170.00" cy="898.25" r="3.0" fill="#141414"/>
<circle cx="183.33" cy="900.00" r="3.0" fill="#141414"/>
<circle cx="196.67" cy="897.25" r="3.0" fill="#141414"/>
<circle cx="210.00" cy="876.00" r="3.0" fill="#141414"/>
<circle cx="223.33" cy="893.25" r="3.0" fill="#141414"/>
<circle cx="236.66" cy="915.25" r="3.0" fill="#141414"/>
<circle cx="250.00" cy="908.75" r="3.0" fill="#141414"/>
<circle cx="263.33" cy="899.50" r="3.0" fill="#141414"/>
<circle cx="276.66" cy="913.25" r="3.0" fill="#141414"/>
<circle cx="290.00" cy="916.00" r="3.0" fill="#141414"/>
<circle cx="303.33" cy="918.75" r="3.0" fill="#141414"/>
<circle cx="316.66" cy="924.25" r="3.0" fill="#141414"/>
<circle cx="330.00" cy="932.00" r="3.0" fill="#141414"/>
<circle cx="343.33" cy="959.00" r="3.0" fill="#141414"/>
<circle cx="356.66" cy="965.00" r="3.0" fill="#141414"/>
<circle cx="369.99" cy="987.50" r="3.0" fill="#141414"/>
<circle cx="383.33" cy="975.00" r="3.0" fill="#141414"/>
<circle cx="396.66" cy="966.75" r="3.0" fill="#141414"/>
<circle cx="409.99" cy="975.00" r="3.0" fill="#141414"/>
<circle cx="423.33" cy="988.75" r="3.0" fill="#141414"/>
<circle cx="436.66" cy="992.75" r="3.0" fill="#141414"/>
<circle cx="449.99" cy="977.00" r="3.0" fill="#141414"/>
<circle cx="463.32" cy="970.00" r="3.0" fill="#141414"/>
<circle cx="476.66" cy="965.75" r="3.0" fill="#141414"/>
<circle cx="489.99" cy="959.50" r="3.0" fill="#141414"/>
<circle cx="503.32" cy="952.50" r="3.0" fill="#141414"/>
<circle cx="516.66" cy="949.00" r="3.0" fill="#141414"/>
<circle cx="529.99" cy="945.75" r="3.0" fill="#141414"/>
<circle cx="543.32" cy="939.50" r="3.0" fill="#141414"/>
<circle cx="556.66" cy="933.25" r="3.0" fill="#141414"/>
<circle cx="569.99" cy="932.50" r="3.0" fill="#141414"/>
<circle cx="583.32" cy="934.50" r="3.0" fill="#141414"/>
<circle cx="596.65" cy="933.50" r="3.0" fill="#141414"/>
<circle cx="609.99" cy="930.00" r="3.0" fill="#141414"/>
<circle cx="623.32" cy="927.50" r="3.0" fill="#141414"/>
<circle cx="636.65" cy="924.75" r="3.0" fill="#141414"/>
<circle cx="649.99" cy="905.00" r="3.0" fill="#141414"/>
<circle cx="663.32" cy="904.00" r="3.0" fill="#141414"/>
<circle cx="676.65" cy="912.75" r="3.0" fill="#141414"/>
<circle cx="689.99" cy="923.00" r="3.0" fill="#141414"/>
<circle cx="703.32" cy="925.50" r="3.0" fill="#141414"/>
<circle cx="716.65" cy="929.00" r="3.0" fill="#141414"/>
<circle cx="729.99" cy="932.00" r="3.0" fill="#141414"/>
<circle cx="743.32" cy="931.00" r="3.0" fill="#141414"/>
<rect x="583.3" y="976.3" width="141.2" height="50.7" fill="#fff" stroke="#6a6a6a" stroke-width="1.1"/>
<rect x="596.3" y="987" width="8.7" height="8.7" fill="#7d7d7d"/>
<line x1="589.2" y1="1015" x2="612" y2="1015" stroke="#141414" stroke-width="2.2"/>
<circle cx="600.7" cy="1015" r="3.6" fill="#141414"/>
<text x="618.5" y="997.3" textLength="21.5" lengthAdjust="spacingAndGlyphs" font-style="italic" font-size="19.5" fill="#141414" stroke="#fff" stroke-width="0.22">Kp</text>
<text x="618.5" y="1020.5" textLength="69.5" lengthAdjust="spacingAndGlyphs" font-size="19.5" fill="#141414" stroke="#fff" stroke-width="0.22"><tspan font-style="italic">Dst</tspan>, нТл</text>
<text x="118.5" y="994.8" text-anchor="end" font-size="19.5" fill="#141414" stroke="#fff" stroke-width="0.22">9</text>
<text x="118.5" y="1076.5" text-anchor="end" font-size="19.5" fill="#141414" stroke="#fff" stroke-width="0.22">0</text>
<text x="83.3" y="979" text-anchor="middle" textLength="23" lengthAdjust="spacingAndGlyphs" transform="rotate(-90 83.3 979)" font-style="italic" font-size="19.5" fill="#141414" stroke="#fff" stroke-width="0.22">Kp</text>
<text x="745.3" y="906.3" font-size="19.5" fill="#141414" stroke="#fff" stroke-width="0.22">0</text>
<text x="750.2" y="949.0" font-size="19.5" fill="#141414" stroke="#fff" stroke-width="0.22">−50</text>
<text x="750.2" y="993.7" font-size="19.5" fill="#141414" stroke="#fff" stroke-width="0.22">−100</text>
<text x="750.2" y="1037.8" font-size="19.5" fill="#141414" stroke="#fff" stroke-width="0.22">−150</text>
<text x="802.5" y="967" text-anchor="middle" textLength="72" lengthAdjust="spacingAndGlyphs" transform="rotate(90 802.5 967)" font-size="19.5" fill="#141414" stroke="#fff" stroke-width="0.22"><tspan font-style="italic">Dst</tspan>, нТл</text>
<text x="254.6" y="1093.6" text-anchor="middle" font-size="19.5" fill="#141414" stroke="#fff" stroke-width="0.22">04</text>
<text x="573.4" y="1093.6" text-anchor="middle" font-size="19.5" fill="#141414" stroke="#fff" stroke-width="0.22">05</text>
<text x="426" y="1123.8" text-anchor="middle" textLength="117" lengthAdjust="spacingAndGlyphs" font-size="19.5" fill="#141414" stroke="#fff" stroke-width="0.22">Ноябрь, 2021</text>
</g>
</svg></body></html>
